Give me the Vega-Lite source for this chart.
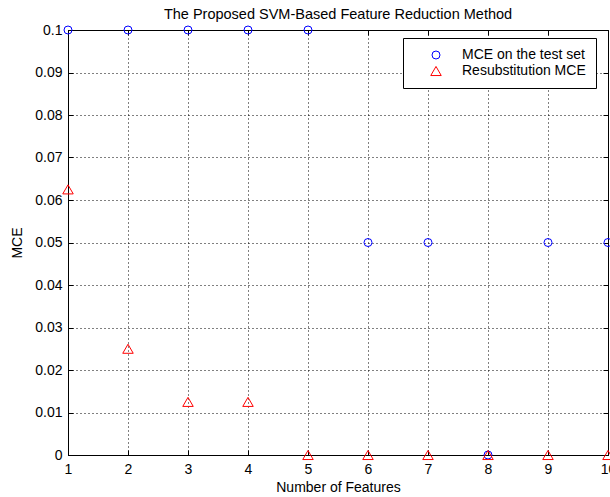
{
  "$schema": "https://vega.github.io/schema/vega-lite/v6.json",
  "width": 540,
  "height": 425,
  "autosize": {"type": "none"},
  "padding": {"left": 68, "top": 30, "right": 2, "bottom": 42},
  "background": "white",
  "title": {"text": "The Proposed SVM-Based Feature Reduction Method", "fontSize": 14.5, "font": "Liberation Sans", "fontWeight": "normal", "color": "black", "offset": 1},
  "config": {
    "view": {"stroke": "black", "strokeWidth": 1},
    "axis": {"labelFont": "Liberation Sans", "labelFontSize": 14, "labelColor": "black", "titleFont": "Liberation Sans", "titleFontSize": 14, "titleFontWeight": "normal", "titleColor": "black", "tickColor": "black", "tickSize": -5, "domain": false},
    "legend": {"labelFont": "Liberation Sans", "labelFontSize": 14, "labelColor": "black"}
  },
  "data": {"values": [
    {"features": 1, "mce": 0.1, "series": "MCE on the test set"},
    {"features": 2, "mce": 0.1, "series": "MCE on the test set"},
    {"features": 3, "mce": 0.1, "series": "MCE on the test set"},
    {"features": 4, "mce": 0.1, "series": "MCE on the test set"},
    {"features": 5, "mce": 0.1, "series": "MCE on the test set"},
    {"features": 6, "mce": 0.05, "series": "MCE on the test set"},
    {"features": 7, "mce": 0.05, "series": "MCE on the test set"},
    {"features": 8, "mce": 0, "series": "MCE on the test set"},
    {"features": 9, "mce": 0.05, "series": "MCE on the test set"},
    {"features": 10, "mce": 0.05, "series": "MCE on the test set"},
    {"features": 1, "mce": 0.0625, "series": "Resubstitution MCE"},
    {"features": 2, "mce": 0.025, "series": "Resubstitution MCE"},
    {"features": 3, "mce": 0.0125, "series": "Resubstitution MCE"},
    {"features": 4, "mce": 0.0125, "series": "Resubstitution MCE"},
    {"features": 5, "mce": 0, "series": "Resubstitution MCE"},
    {"features": 6, "mce": 0, "series": "Resubstitution MCE"},
    {"features": 7, "mce": 0, "series": "Resubstitution MCE"},
    {"features": 8, "mce": 0, "series": "Resubstitution MCE"},
    {"features": 9, "mce": 0, "series": "Resubstitution MCE"},
    {"features": 10, "mce": 0, "series": "Resubstitution MCE"}
  ]},
  "layer": [
    {
      "mark": {"type": "point", "filled": false, "strokeWidth": 1, "opacity": 1},
      "encoding": {
        "x": {"field": "features", "type": "quantitative", "scale": {"domain": [1, 10], "nice": false, "zero": false},
              "axis": {"orient": "bottom", "values": [1,2,3,4,5,6,7,8,9,10], "title": "Number of Features", "grid": true, "gridColor": "black", "gridDash": [1, 3], "gridOpacity": 1, "labelPadding": 12, "titlePadding": 4, "labelFlush": false}},
        "y": {"field": "mce", "type": "quantitative", "scale": {"domain": [0, 0.1], "nice": false},
              "axis": {"orient": "left", "values": [0,0.01,0.02,0.03,0.04,0.05,0.06,0.07,0.08,0.09,0.1], "format": "~f", "title": "MCE", "grid": true, "gridColor": "black", "gridDash": [1, 3], "gridOpacity": 1, "labelPadding": 11, "titlePadding": 10, "labelFlush": false}},
        "color": {"field": "series", "type": "nominal", "scale": {"domain": ["MCE on the test set", "Resubstitution MCE"], "range": ["#0000ff", "#ff0000"]},
                  "legend": {"title": null, "orient": "none", "legendX": 335, "legendY": 8, "strokeColor": "black", "fillColor": "white", "padding": 10, "symbolOffset": 16, "labelOffset": 19, "rowPadding": 2, "symbolStrokeWidth": 1}},
        "shape": {"field": "series", "type": "nominal", "scale": {"domain": ["MCE on the test set", "Resubstitution MCE"], "range": ["circle", "triangle-up"]}},
        "size": {"field": "series", "type": "nominal", "scale": {"domain": ["MCE on the test set", "Resubstitution MCE"], "range": [64, 110]}}
      }
    },
    {
      "mark": {"type": "point", "opacity": 0},
      "encoding": {
        "x": {"field": "features", "type": "quantitative", "axis": {"orient": "top", "values": [1,2,3,4,5,6,7,8,9,10], "labels": false, "title": null, "grid": false}},
        "y": {"field": "mce", "type": "quantitative", "axis": {"orient": "right", "values": [0,0.01,0.02,0.03,0.04,0.05,0.06,0.07,0.08,0.09,0.1], "labels": false, "title": null, "grid": false}}
      }
    }
  ],
  "resolve": {"axis": {"x": "independent", "y": "independent"}}
}
